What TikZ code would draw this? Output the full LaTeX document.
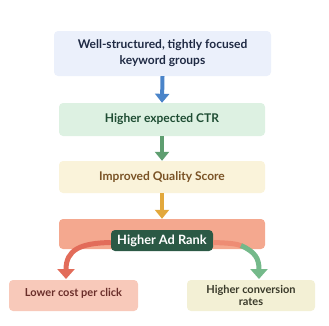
\documentclass[tikz,border=0pt]{standalone}
\usepackage{fontspec}
\setmainfont{Lato}
\usetikzlibrary{arrows.meta}
\definecolor{b1fill}{HTML}{EBF0FB}
\definecolor{b1text}{HTML}{1F2A44}
\definecolor{bluearr}{HTML}{4A84C9}
\definecolor{b2fill}{HTML}{DDF1E2}
\definecolor{b2text}{HTML}{1E4D33}
\definecolor{greenarr}{HTML}{5E9E70}
\definecolor{b3fill}{HTML}{FAF3DA}
\definecolor{b3text}{HTML}{7A5326}
\definecolor{yelarr}{HTML}{E2A83C}
\definecolor{b4fill}{HTML}{F4A88F}
\definecolor{pillfill}{HTML}{2B5945}
\definecolor{redarr}{HTML}{E26C5A}
\definecolor{salarr}{HTML}{EE8C74}
\definecolor{grnarr2}{HTML}{74B98A}
\definecolor{lbfill}{HTML}{F8C9BA}
\definecolor{lbtext}{HTML}{6A2E2A}
\definecolor{rbfill}{HTML}{F3F0D5}
\definecolor{rbtext}{HTML}{3A3A2A}
\begin{document}
\begin{tikzpicture}[x=1pt,y=-1pt,
  box/.style={rounded corners=4pt,inner sep=0pt,align=center,font=\bfseries\fontsize{12}{16}\selectfont},
  smallbox/.style={box,font=\bfseries\fontsize{11}{12.5}\selectfont},
  flowarr/.style={line width=4pt,-{Triangle[width=14pt,length=9pt]}},
  curvarr/.style={line width=5pt},
]
\useasboundingbox (0,0) rectangle (329,325);
\node[box,fill=b1fill,text=b1text,minimum width=217pt,minimum height=45pt] (kw) at (162.5,53.5) {Well-structured, tightly focused\\keyword groups};
\node[box,fill=b2fill,text=b2text,minimum width=206pt,minimum height=33pt] (ctr) at (162,119.5) {Higher expected CTR};
\node[box,fill=b3fill,text=b3text,minimum width=206pt,minimum height=32pt] (qs) at (162,177) {Improved Quality Score};
\node[box,fill=b4fill,minimum width=206pt,minimum height=30pt] (band) at (162,234) {};
\node[box,fill=pillfill,text=white,minimum width=102pt,minimum height=21pt,font=\bfseries\fontsize{12.8}{14}\selectfont] (rank) at (162,240.5) {Higher Ad Rank};
\node[smallbox,fill=lbfill,text=lbtext,minimum width=129pt,minimum height=31pt,text depth=6pt] (cpc) at (73.5,295.5) {Lower cost per click};
\node[smallbox,fill=rbfill,text=rbtext,minimum width=128pt,minimum height=31pt] (conv) at (251,295.5) {Higher conversion\\rates};
\draw[flowarr,bluearr] (kw.south) -- (ctr.north);
\draw[flowarr,greenarr] (ctr.south) -- (qs.north);
\draw[flowarr,yelarr] (qs.south) -- (band.north);
\coordinate (lend) at (66,279);
\coordinate (rend) at (259,279);
\draw[curvarr,redarr,-{Triangle[width=17pt,length=10pt]}] (rank.west) ++(0,2) .. controls (80,243) and (66,250) .. (lend);
\draw[curvarr,salarr] (rank.east) ++(0,2) .. controls (228,243) and (236,243.5) .. (242,246);
\draw[curvarr,grnarr2,-{Triangle[width=17pt,length=10pt]}] (241,245.5) .. controls (255,252) and (259,258) .. (rend);
\end{tikzpicture}
\end{document}
